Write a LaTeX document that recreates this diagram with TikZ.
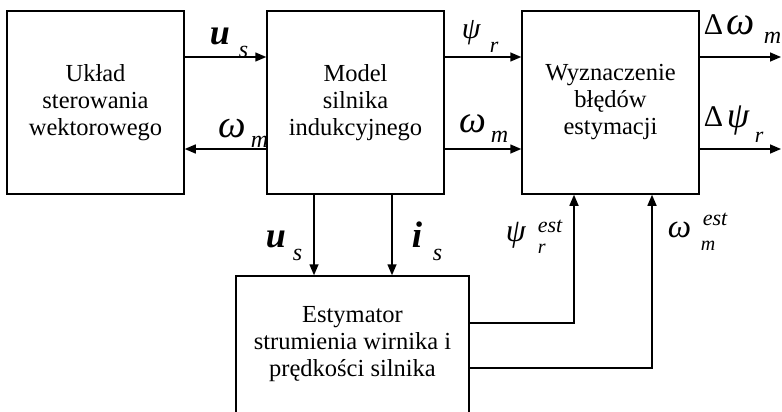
\documentclass[tikz,border=0pt]{standalone}
\usepackage{fontspec}
\setmainfont{Liberation Serif}
\usetikzlibrary{arrows.meta}
\begin{document}
\begin{tikzpicture}[x=1pt,y=-1pt,
  line width=1.5pt,
  >={Triangle[length=11pt,width=9pt]},
  block/.style={draw,line width=1.5pt,inner sep=0pt,align=center,
    font=\fontsize{24.5}{27}\selectfont},
  sym/.style={inner sep=0pt,anchor=base west,font=\fontsize{#1}{#1}\selectfont\itshape},
  bsym/.style={inner sep=0pt,anchor=base west,font=\fontsize{#1}{#1}\selectfont\bfseries\itshape},
  usym/.style={inner sep=0pt,anchor=base west,font=\fontsize{#1}{#1}\selectfont},
  sub/.style={inner sep=0pt,anchor=base west,font=\fontsize{#1}{#1}\selectfont\itshape}]
\useasboundingbox (0,0) rectangle (782,412);

% blocks
\node[block,minimum width=177pt,minimum height=183pt] (ster) at (95.5,102.5)
  {Układ\\sterowania\\wektorowego};
\node[block,minimum width=177pt,minimum height=183pt] (model) at (355.5,102.5)
  {Model\\silnika\\indukcyjnego};
\node[block,minimum width=177pt,minimum height=183pt] (wyz) at (610.5,102.5)
  {Wyznaczenie\\błędów\\estymacji};
\node[block,minimum width=233pt,minimum height=137pt] (est) at (352.5,344.5)
  {Estymator\\strumienia wirnika i\\prędkości silnika};

% helper coordinates
\coordinate (yA) at (0,57);
\coordinate (yB) at (0,149);
\coordinate (yE) at (0,323);
\coordinate (yF) at (0,368);
\coordinate (xC) at (314,0);
\coordinate (xD) at (392,0);
\coordinate (xE) at (574,0);
\coordinate (xF) at (652,0);
\coordinate (outA) at (781,57);
\coordinate (outB) at (781,149);

% connectors
\draw[->] (ster.east |- yA) -- (model.west |- yA);
\draw[->] (model.west |- yB) -- (ster.east |- yB);
\draw[->] (model.east |- yA) -- (wyz.west |- yA);
\draw[->] (model.east |- yB) -- (wyz.west |- yB);
\draw[->] (wyz.east |- yA) -- (outA);
\draw[->] (wyz.east |- yB) -- (outB);
\draw[->] (model.south -| xC) -- (est.north -| xC);
\draw[->] (model.south -| xD) -- (est.north -| xD);
\draw[->] (est.east |- yE) -| (wyz.south -| xE);
\draw[->] (est.east |- yF) -| (wyz.south -| xF);

% labels
\node[bsym=36] (l1a) at (209,45) {u};
\node[sub=24] (l1b) at (238,58) {s};
\node[sym=39] (l2a) at (218,137) {ω};
\node[sub=24] (l2b) at (250,147) {m};
\node[sym=30] (l3a) at (461,39) {ψ};
\node[sub=22] (l3b) at (489,53) {r};
\node[sym=38] (l4a) at (459,132) {ω};
\node[sub=24] (l4b) at (490,142) {m};
\node[usym=30] (l5a) at (703,35) {Δ};
\node[sym=40] (l5b) at (726,35) {ω};
\node[sub=24] (l5c) at (763,44) {m};
\node[usym=30] (l6a) at (703,126) {Δ};
\node[sym=36] (l6b) at (726,127) {ψ};
\node[sub=22] (l6c) at (754,142) {r};
\node[bsym=36] (l7a) at (265,247) {u};
\node[sub=24] (l7b) at (292,260) {s};
\node[bsym=37] (l8a) at (411,247) {i};
\node[sub=24] (l8b) at (432,260) {s};
\node[sym=32] (l9a) at (505,241) {ψ};
\node[sub=20] (l9b) at (537,253) {r};
\node[sub=22] (l9c) at (537,232) {est};
\node[sym=33] (l10a) at (667,237) {ω};
\node[sub=20] (l10b) at (700,250) {m};
\node[sub=22] (l10c) at (702,225) {est};
\end{tikzpicture}
\end{document}
